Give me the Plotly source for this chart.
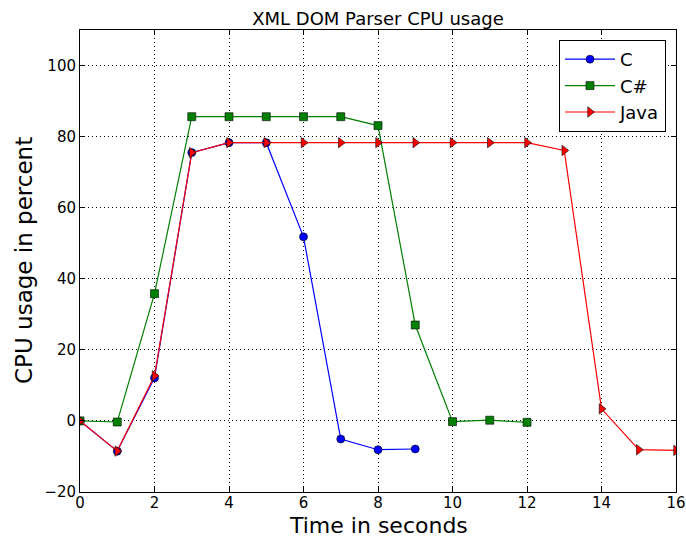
import plotly.graph_objects as go

c_x = [0, 1, 2, 3, 4, 5, 6, 7, 8, 9]
c_y = [0, -8.5, 12.1, 75.5, 78.3, 78.3, 51.8, -5.1, -8.1, -7.9]
cs_x = [0, 1, 2, 3, 4, 5, 6, 7, 8, 9, 10, 11, 12]
cs_y = [0, -0.3, 35.8, 85.6, 85.6, 85.6, 85.6, 85.6, 83.1, 27.0, -0.2, 0.2, -0.4]
java_x = [0, 1, 2, 3, 4, 5, 6, 7, 8, 9, 10, 11, 12, 13, 14, 15, 16]
java_y = [0, -8.5, 12.7, 75.5, 78.3, 78.3, 78.3, 78.3, 78.3, 78.3, 78.3, 78.3, 78.3, 76.1, 3.4, -8.1, -8.3]

xticks = [0, 2, 4, 6, 8, 10, 12, 14, 16]
yticks = [-20, 0, 20, 40, 60, 80, 100]

W, H = 686, 537
L, R, T, B = 80, 10, 30, 45

fig = go.Figure()
fig.add_trace(go.Scatter(x=c_x, y=c_y, name="C", mode="lines+markers",
                         line=dict(color="#0000ff", width=1.2),
                         marker=dict(symbol="circle", size=8, color="#0000ff",
                                     line=dict(color="black", width=0.6))))
fig.add_trace(go.Scatter(x=cs_x, y=cs_y, name="C#", mode="lines+markers",
                         line=dict(color="#008000", width=1.2),
                         marker=dict(symbol="square", size=8, color="#008000",
                                     line=dict(color="black", width=0.6))))
fig.add_trace(go.Scatter(x=java_x, y=java_y, name="Java", mode="lines+markers",
                         line=dict(color="#ff0000", width=1.2),
                         marker=dict(symbol="triangle-right", size=9, color="#ff0000",
                                     line=dict(color="black", width=0.6))))

axis_common = dict(showline=True, linecolor="black", linewidth=1, mirror="ticks",
                   ticks="inside", ticklen=5, tickcolor="black", automargin=False,
                   ticklabeloverflow="allow",
                   showgrid=True, gridcolor="black", griddash="1px,3px", gridwidth=1,
                   zeroline=False, tickfont=dict(size=15, color="black"))

plot_h = H - T - B
fig.update_layout(
    width=W, height=H,
    margin=dict(l=L, r=R, t=T, b=B),
    paper_bgcolor="white", plot_bgcolor="white",
    font=dict(family="DejaVu Sans", color="black"),
    title=dict(text="XML DOM Parser CPU usage", x=0.5, xref="paper", xanchor="center",
               y=1 - 18.5 / H, yanchor="middle", font=dict(size=18)),
    xaxis=dict(range=[0, 16], tickvals=xticks, ticklabelstandoff=-3, **axis_common),
    yaxis=dict(range=[-20, 110], tickvals=yticks, **axis_common),
    legend=dict(x=(666 - L) / (W - L - R), y=(H - B - 40) / plot_h, xanchor="right", yanchor="top",
                bordercolor="black", borderwidth=1, bgcolor="white",
                font=dict(size=18), itemwidth=50),
    showlegend=True,
    annotations=[
        dict(text="Time in seconds", xref="paper", yref="paper", x=0.5,
             y=-(525 - (H - B)) / plot_h, xanchor="center", yanchor="middle",
             showarrow=False, font=dict(size=22), borderpad=0),
        dict(text="CPU usage in percent", xref="paper", yref="paper",
             x=-(L - 24) / (W - L - R), y=0.5, xanchor="center", yanchor="middle",
             textangle=-90, showarrow=False, font=dict(size=23)),
    ],
)

fig.write_html("out.html")
